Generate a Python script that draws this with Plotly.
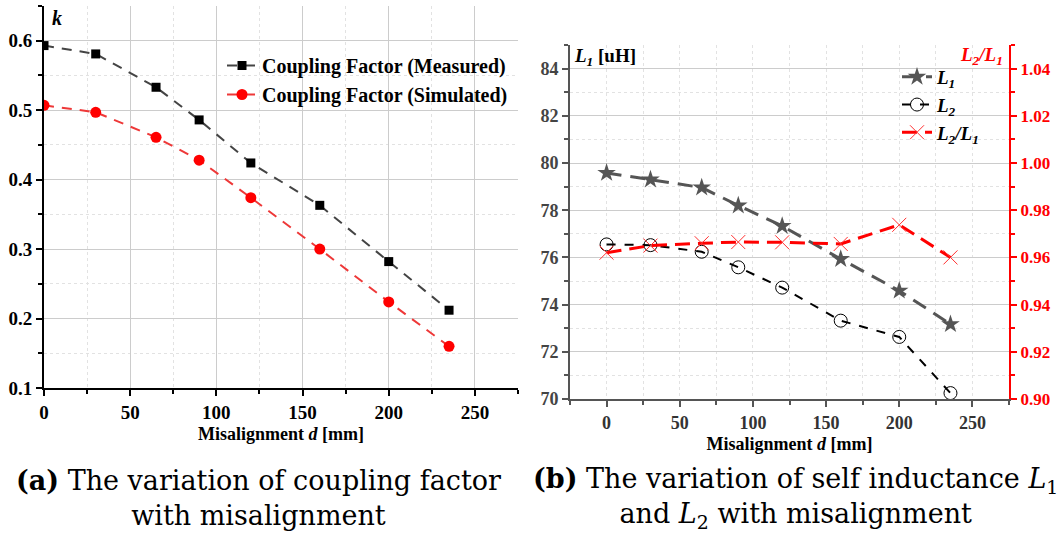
import plotly.graph_objects as go

# ---------------- data ----------------
d = [0, 30, 65, 90, 120, 160, 200, 235]
k_measured = [0.593, 0.581, 0.533, 0.486, 0.424, 0.363, 0.282, 0.212]
k_simulated = [0.507, 0.497, 0.461, 0.428, 0.374, 0.300, 0.224, 0.160]
L1 = [79.58, 79.30, 78.96, 78.20, 77.33, 75.93, 74.59, 73.17]
L2 = [76.55, 76.52, 76.24, 75.58, 74.72, 73.32, 72.63, 70.25]
ratio = [0.962, 0.965, 0.966, 0.9665, 0.9664, 0.9657, 0.9738, 0.960]

left_yticks = [0.1, 0.2, 0.3, 0.4, 0.5, 0.6]
right_yticks = [70, 72, 74, 76, 78, 80, 82, 84]
ratio_ticks = [0.90, 0.92, 0.94, 0.96, 0.98, 1.00, 1.02, 1.04]
xticks = [0, 50, 100, 150, 200, 250]

SERIF = "Liberation Serif, Times New Roman, serif"
CAPTION = "DejaVu Serif, serif"
W, H = 1057, 540

fig = go.Figure()

# ---- left panel ----
fig.add_trace(go.Scatter(
    x=d, y=k_measured, mode="lines+markers", name="Coupling Factor (Measured)",
    line=dict(color="#444444", width=2, dash="10px,8px"),
    marker=dict(symbol="square", size=9, color="black"),
    xaxis="x", yaxis="y", legend="legend"))
fig.add_trace(go.Scatter(
    x=d, y=k_simulated, mode="lines+markers", name="Coupling Factor (Simulated)",
    line=dict(color="#ee3838", width=2, dash="10px,8px"),
    marker=dict(symbol="circle", size=11, color="#ff0000"),
    xaxis="x", yaxis="y", legend="legend"))

# ---- right panel ----
fig.add_trace(go.Scatter(
    x=d, y=L1, mode="lines+markers", name="<i>L</i><sub><i>1</i></sub>",
    line=dict(color="#555555", width=3, dash="15px,9px"),
    marker=dict(symbol="star", size=14, color="#555555"),
    xaxis="x2", yaxis="y2", legend="legend2"))
fig.add_trace(go.Scatter(
    x=d, y=L2, mode="lines+markers", name="<i>L</i><sub><i>2</i></sub>",
    line=dict(color="black", width=2, dash="9px,9px"),
    marker=dict(symbol="circle-open", size=13, color="black", line=dict(width=1)),
    xaxis="x2", yaxis="y2", legend="legend2"))
fig.add_trace(go.Scatter(
    x=d, y=ratio, mode="lines+markers", name="<i>L</i><sub><i>2</i></sub><i>/L</i><sub><i>1</i></sub>",
    line=dict(color="#ff0000", width=3, dash="15px,8px"),
    marker=dict(symbol="x-thin", size=14, color="#ff3030", line=dict(width=1, color="#ff3030")),
    xaxis="x2", yaxis="y3", legend="legend2"))

grid_major = "#cccccc"
grid_minor = "#e2e2e2"

def px_x(a, b):
    return [a / W, b / W]

def px_y(top, bottom):
    return [(H - bottom) / H, (H - top) / H]

xtitle = dict(text="<b>Misalignment <i>d</i> [mm]</b>", font=dict(family=SERIF, size=18), standoff=6)

fig.update_layout(
    width=W, height=H,
    margin=dict(l=0, r=0, t=0, b=0),
    paper_bgcolor="white", plot_bgcolor="white",
    font=dict(family=SERIF, color="black"),
    xaxis=dict(
        domain=px_x(44, 518), range=[0, 275], anchor="y",
        tickvals=xticks, showline=True, linecolor="black", linewidth=2,
        ticks="outside", ticklen=6, tickwidth=1.5, tickcolor="black",
        showgrid=True, gridcolor=grid_major, gridwidth=1,
        minor=dict(dtick=25, ticks="outside", ticklen=4, tickcolor="black",
                   showgrid=True, gridcolor=grid_minor, griddash="dot"),
        zeroline=False, tickfont=dict(family=SERIF, size=19, color="black", weight="bold"),
        automargin=False, title=xtitle,
    ),
    yaxis=dict(
        domain=px_y(6, 388), range=[0.1, 0.65], anchor="x",
        tickvals=left_yticks, ticktext=["0.1", "0.2", "0.3", "0.4", "0.5", "0.6"],
        showline=True, linecolor="black", linewidth=2,
        ticks="outside", ticklen=6, tickwidth=1.5, tickcolor="black",
        showgrid=True, gridcolor=grid_major, gridwidth=1,
        minor=dict(dtick=0.05, tick0=0.1, ticks="outside", ticklen=4, tickcolor="black",
                   showgrid=True, gridcolor=grid_minor, griddash="dot"),
        zeroline=False, tickfont=dict(family=SERIF, size=19, color="black", weight="bold"),
        automargin=False,
    ),
    xaxis2=dict(
        domain=px_x(570, 1009), range=[-25, 275], anchor="y2",
        tickvals=xticks, showline=True, linecolor="#555555", linewidth=2,
        ticks="outside", ticklen=6, tickwidth=1.5, tickcolor="#555555",
        showgrid=False,
        minor=dict(dtick=25, tick0=-25, ticks="outside", ticklen=4, tickcolor="#555555",
                   showgrid=True, gridcolor=grid_minor, griddash="dot"),
        zeroline=False, tickfont=dict(family=SERIF, size=18, color="#333333", weight="bold"),
        automargin=False, title=xtitle,
    ),
    yaxis2=dict(
        domain=px_y(45, 399), range=[70, 85], anchor="x2",
        tickvals=right_yticks, showline=True, linecolor="#555555", linewidth=2,
        ticks="outside", ticklen=6, tickwidth=1.5, tickcolor="#555555",
        showgrid=True, gridcolor=grid_major, gridwidth=1,
        minor=dict(dtick=1, tick0=70, ticks="outside", ticklen=4, tickcolor="#555555",
                   showgrid=True, gridcolor=grid_minor, griddash="dot"),
        zeroline=False, tickfont=dict(family=SERIF, size=18, color="#444444", weight="bold"),
        automargin=False,
    ),
    yaxis3=dict(
        domain=px_y(45, 399), range=[0.90, 1.05], anchor="x2", overlaying="y2", side="right",
        tickvals=ratio_ticks, ticktext=["%.2f" % v for v in ratio_ticks],
        showline=True, linecolor="#ff0000", linewidth=2,
        ticks="outside", ticklen=6, tickwidth=1.5, tickcolor="#ff0000",
        showgrid=False,
        minor=dict(dtick=0.01, tick0=0.9, ticks="outside", ticklen=4, tickcolor="#ff0000", showgrid=False),
        zeroline=False, tickfont=dict(family=SERIF, size=17, color="#ff0000", weight="bold"),
        automargin=False,
    ),
    legend=dict(
        x=222 / W, y=(H - 46) / H, xanchor="left", yanchor="top",
        bgcolor="rgba(0,0,0,0)", borderwidth=0,
        font=dict(family=SERIF, size=20, color="black", weight="bold"),
        tracegroupgap=0, itemwidth=30,
    ),
    legend2=dict(
        x=897 / W, y=(H - 58) / H, xanchor="left", yanchor="top",
        bgcolor="rgba(0,0,0,0)", borderwidth=0,
        font=dict(family=SERIF, size=19, color="black", weight="bold"),
        tracegroupgap=0, itemwidth=30,
    ),
    showlegend=True,
)

annotations = [
    dict(text="<b><i>k</i></b>", x=50 / W, y=(H - 18) / H, xref="paper", yref="paper",
         xanchor="left", yanchor="middle", showarrow=False,
         font=dict(family=SERIF, size=20, color="black")),
    dict(text="<b><i>L</i><sub><i>1</i></sub> [uH]</b>", x=572 / W, y=(H - 57) / H, xref="paper", yref="paper",
         xanchor="left", yanchor="middle", showarrow=False,
         font=dict(family=SERIF, size=19, color="black")),
    dict(text="<b><i>L</i><sub><i>2</i></sub><i>/L</i><sub><i>1</i></sub></b>", x=1005 / W, y=(H - 56) / H,
         xref="paper", yref="paper", xanchor="right", yanchor="middle", showarrow=False,
         font=dict(family=SERIF, size=19, color="#ff0000")),
    dict(text="<b>(a)</b> The variation of coupling factor<br>with misalignment",
         x=258 / W, y=(H - 498) / H, xref="paper", yref="paper",
         xanchor="center", yanchor="middle", showarrow=False, align="center",
         font=dict(family=CAPTION, size=27, color="black")),
    dict(text="<b>(b)</b> The variation of self inductance <i>L</i><sub>1</sub><br>and <i>L</i><sub>2</sub> with misalignment",
         x=795 / W, y=(H - 498) / H, xref="paper", yref="paper",
         xanchor="center", yanchor="middle", showarrow=False, align="center",
         font=dict(family=CAPTION, size=27, color="black")),
]
fig.update_layout(annotations=annotations)

fig.write_html("out.html", config={"displayModeBar": False},
               post_script="document.body.style.margin='0';document.body.style.padding='0';")
